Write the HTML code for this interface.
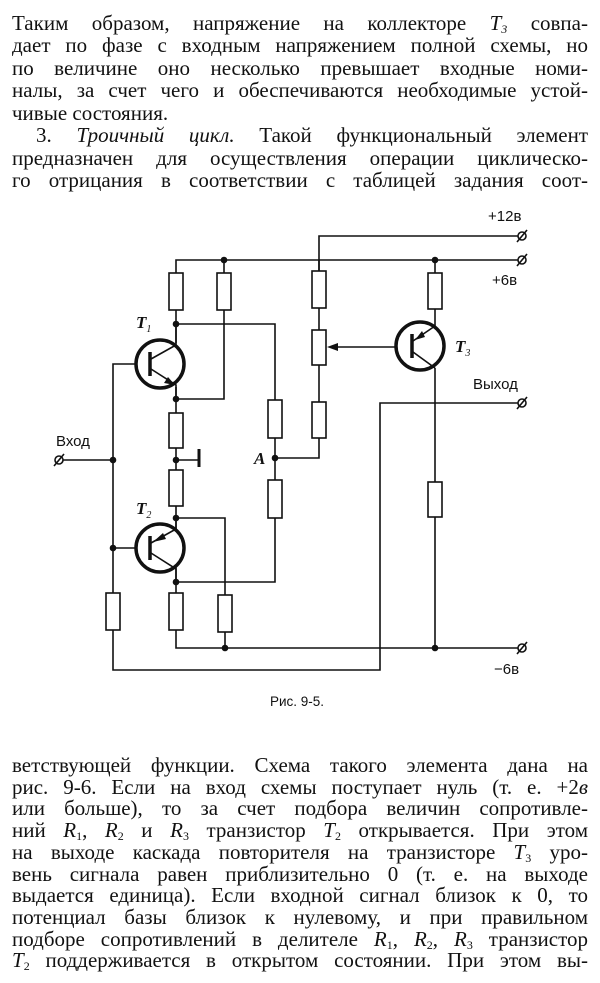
<!DOCTYPE html>
<html><head><meta charset="utf-8"><style>
html,body{margin:0;padding:0;background:#fff;}
body{width:600px;height:983px;position:relative;overflow:hidden;font-family:"Liberation Serif",serif;color:#111;}
.l{position:absolute;left:12px;width:576px;font-size:21px;line-height:22px;text-align:justify;text-align-last:justify;white-space:nowrap;}
sub{font-size:12px;line-height:0;vertical-align:-3px;}
i{font-style:italic;}
svg{position:absolute;left:0;top:0;}
.s{font-family:"Liberation Sans",sans-serif;}
</style></head><body>
<div class="l" style="top:12px">Таким образом, напряжение на коллекторе <i>T<sub>3</sub></i> совпа-</div>
<div class="l" style="top:34px">дает по фазе с входным напряжением полной схемы, но</div>
<div class="l" style="top:57px">по величине оно несколько превышает входные номи-</div>
<div class="l" style="top:79px">налы, за счет чего и обеспечиваются необходимые устой-</div>
<div class="l" style="top:102px;width:auto;text-align:left;text-align-last:left">чивые состояния.</div>
<div class="l" style="top:124px;left:36px;width:552px">3. <i>Троичный цикл.</i> Такой функциональный элемент</div>
<div class="l" style="top:147px">предназначен для осуществления операции циклическо-</div>
<div class="l" style="top:169px">го отрицания в соответствии с таблицей задания соот-</div>

<div class="l" style="top:754px">ветствующей функции. Схема такого элемента дана на</div>
<div class="l" style="top:776px">рис. 9-6. Если на вход схемы поступает нуль (т. е. +2<i>в</i></div>
<div class="l" style="top:797px">или больше), то за счет подбора величин сопротивле-</div>
<div class="l" style="top:819px">ний <i>R</i><sub>1</sub>, <i>R</i><sub>2</sub> и <i>R</i><sub>3</sub> транзистор <i>T</i><sub>2</sub> открывается. При этом</div>
<div class="l" style="top:841px">на выходе каскада повторителя на транзисторе <i>T</i><sub>3</sub> уро-</div>
<div class="l" style="top:863px">вень сигнала равен приблизительно 0 (т. е. на выходе</div>
<div class="l" style="top:884px">выдается единица). Если входной сигнал близок к 0, то</div>
<div class="l" style="top:906px">потенциал базы близок к нулевому, и при правильном</div>
<div class="l" style="top:928px">подборе сопротивлений в делителе <i>R</i><sub>1</sub>, <i>R</i><sub>2</sub>, <i>R</i><sub>3</sub> транзистор</div>
<div class="l" style="top:949px"><i>T</i><sub>2</sub> поддерживается в открытом состоянии. При этом вы-</div>

<svg width="600" height="983" viewBox="0 0 600 983">
<g stroke="#111" stroke-width="1.6" fill="none">
<polyline points="319,271 319,236 518,236"/>
<polyline points="176,273 176,260 518,260"/>
<line x1="224" y1="260" x2="224" y2="273"/>
<line x1="319" y1="260" x2="319" y2="271"/>
<line x1="435" y1="260" x2="435" y2="273"/>
<line x1="176" y1="310" x2="176" y2="343"/>
<polyline points="176,324 275,324 275,400"/>
<polyline points="224,310 224,399 176,399"/>
<line x1="176" y1="387" x2="176" y2="413"/>
<line x1="176" y1="448" x2="176" y2="470"/>
<polyline points="176,460 199,460"/>
<line x1="176" y1="506" x2="176" y2="530"/>
<polyline points="176,518 225,518 225,595"/>
<line x1="176" y1="566" x2="176" y2="593"/>
<polyline points="176,582 275,582 275,518"/>
<line x1="275" y1="438" x2="275" y2="480"/>
<polyline points="275,458 319,458 319,438"/>
<line x1="319" y1="308" x2="319" y2="330"/>
<line x1="319" y1="365" x2="319" y2="402"/>
<polyline points="176,630 176,648 518,648"/>
<line x1="225" y1="632" x2="225" y2="648"/>
<polyline points="135,364 113,364 113,593"/>
<line x1="62" y1="460" x2="113" y2="460"/>
<line x1="113" y1="548" x2="135" y2="548"/>
<polyline points="113,630 113,670 380,670 380,403 518,403"/>
<line x1="435" y1="309" x2="435" y2="326"/>
<line x1="435" y1="368" x2="435" y2="482"/>
<line x1="435" y1="517" x2="435" y2="648"/>
<line x1="397" y1="347" x2="330" y2="347"/>
</g>
<line x1="199" y1="449" x2="199" y2="467" stroke="#111" stroke-width="3"/>
<g stroke="#111" stroke-width="1.6" fill="#fff">
<rect x="169" y="273" width="14" height="37"/>
<rect x="217" y="273" width="14" height="37"/>
<rect x="312" y="271" width="14" height="37"/>
<rect x="312" y="330" width="14" height="35"/>
<rect x="312" y="402" width="14" height="36"/>
<rect x="428" y="273" width="14" height="36"/>
<rect x="268" y="400" width="14" height="38"/>
<rect x="169" y="413" width="14" height="35"/>
<rect x="169" y="470" width="14" height="36"/>
<rect x="268" y="480" width="14" height="38"/>
<rect x="428" y="482" width="14" height="35"/>
<rect x="106" y="593" width="14" height="37"/>
<rect x="169" y="593" width="14" height="37"/>
<rect x="218" y="595" width="14" height="37"/>
</g>
<g stroke="#111" fill="none">
<circle cx="160" cy="364" r="24" stroke-width="3.5"/>
<line x1="150" y1="352" x2="150" y2="376" stroke-width="3.5"/>
<polyline points="151,359 176,345 176,324" stroke-width="1.6"/>
<polyline points="151,369 176,385 176,399" stroke-width="1.6"/>
<circle cx="160" cy="548" r="24" stroke-width="3.5"/>
<line x1="150" y1="536" x2="150" y2="560" stroke-width="3.5"/>
<polyline points="151,543 176,529 176,518" stroke-width="1.6"/>
<polyline points="151,553 176,569 176,582" stroke-width="1.6"/>
<circle cx="420" cy="346" r="24" stroke-width="3.5"/>
<line x1="412" y1="334" x2="412" y2="358" stroke-width="3.5"/>
<polyline points="413,341 435,326" stroke-width="1.6"/>
<polyline points="413,352 435,368" stroke-width="1.6"/>
</g>
<g fill="#111">
<polygon points="175,385 164,383 168,377"/>
<polygon points="153,542 163,533 166,539"/>
<polygon points="415,340 422,331 425,337"/>
<polygon points="327,347 338,343 338,351"/>
<circle cx="224" cy="260" r="3.3"/><circle cx="435" cy="260" r="3.3"/>
<circle cx="176" cy="324" r="3.3"/><circle cx="176" cy="399" r="3.3"/>
<circle cx="176" cy="460" r="3.3"/><circle cx="113" cy="460" r="3.3"/>
<circle cx="275" cy="458" r="3.3"/><circle cx="176" cy="518" r="3.3"/>
<circle cx="113" cy="548" r="3.3"/><circle cx="176" cy="582" r="3.3"/>
<circle cx="225" cy="648" r="3.3"/><circle cx="435" cy="648" r="3.3"/>
</g>
<g stroke="#111" stroke-width="1.6" fill="#fff">
<circle cx="522" cy="236" r="4"/><line x1="517" y1="242" x2="527" y2="230"/>
<circle cx="522" cy="260" r="4"/><line x1="517" y1="266" x2="527" y2="254"/>
<circle cx="522" cy="403" r="4"/><line x1="517" y1="409" x2="527" y2="397"/>
<circle cx="522" cy="648" r="4"/><line x1="517" y1="654" x2="527" y2="642"/>
<circle cx="59" cy="460" r="4"/><line x1="54" y1="466" x2="64" y2="454"/>
</g>
<g fill="#111" class="s" font-size="15">
<text x="488" y="221">+12в</text>
<text x="492" y="285">+6в</text>
<text x="473" y="389">Выход</text>
<text x="56" y="446">Вход</text>
<text x="494" y="674">−6в</text>
<text x="270" y="706" font-size="13.5">Рис. 9-5.</text>
</g>
<g fill="#111" font-family="Liberation Serif,serif" font-style="italic" font-weight="bold" font-size="17">
<text x="136" y="328">T<tspan font-size="10" dy="4" font-weight="normal">1</tspan></text>
<text x="136" y="514">T<tspan font-size="10" dy="4" font-weight="normal">2</tspan></text>
<text x="455" y="352">T<tspan font-size="10" dy="4" font-weight="normal">3</tspan></text>
<text x="254" y="464">A</text>
</g>
</svg>
</body></html>
